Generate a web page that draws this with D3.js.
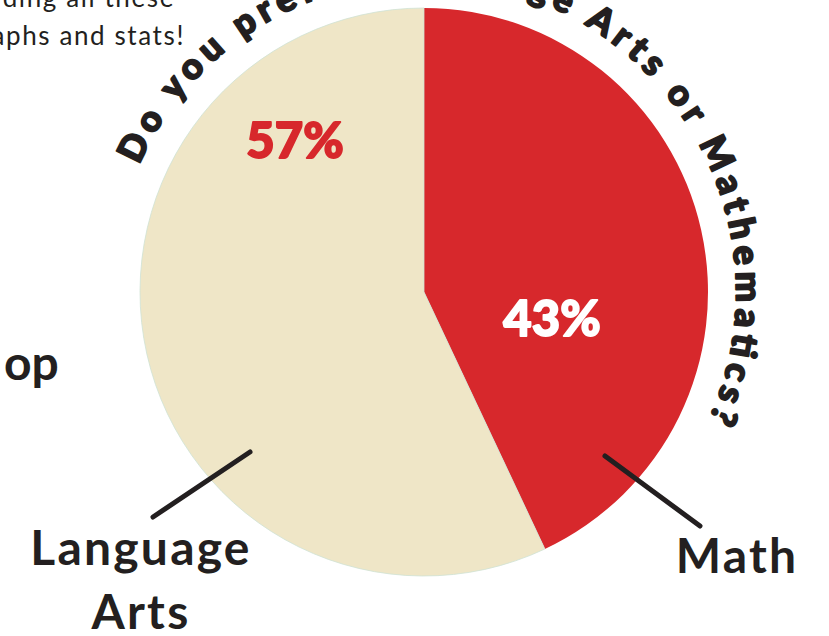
<!DOCTYPE html>
<html>
<head>
<meta charset="utf-8">
<script src="https://cdn.jsdelivr.net/npm/d3@7"></script>
<style>
  html, body { margin: 0; padding: 0; background: #fff; }
  svg { display: block; }
</style>
</head>
<body>
<div id="chart"></div>
<script>
const categories = ['Math', 'Language Arts']
const shares = [43, 57]
const pctLabels = ['43%', '57%']
const sliceColors = ['#d7282c', '#efe6c7']
const pctColors = ['#ffffff', '#d7282c']
const question = 'Do you prefer Language Arts or Mathematics?'

const width = 829
const height = 636
const cx = 424
const cy = 292
const radius = 284
const ink = '#231f20'

const svg = d3.select('#chart')
  .append('svg')
  .attr('width', width)
  .attr('height', height)
  .attr('viewBox', [0, 0, width, height])

// stray bits of page copy around the chart
const copy = svg.append('text')
  .attr('text-anchor', 'end')
  .style('font-family', 'Lato, sans-serif')
  .style('font-size', '26px')
  .style('letter-spacing', '1.6px')
  .style('fill', ink)
copy.append('tspan').attr('x', 175).attr('y', 7).text('understanding all these')
copy.append('tspan').attr('x', 185).attr('y', 45).text('graphs and stats!')

svg.append('text')
  .attr('x', 4).attr('y', 380)
  .style('font-family', 'Lato, sans-serif')
  .style('font-weight', 700)
  .style('font-size', '48px')
  .style('fill', ink)
  .text('op')

const g = svg.append('g')
  .attr('transform', 'translate(' + cx + ',' + cy + ')')

const pie = d3.pie().sort(null).value(d => d.value)
const arc = d3.arc().innerRadius(0).outerRadius(radius)

const data = categories.map((c, i) => ({ name: c, value: shares[i], i: i }))
const arcs = pie(data)

g.selectAll('path.slice')
  .data(arcs)
  .join('path')
  .attr('class', 'slice')
  .attr('d', arc)
  .attr('fill', d => sliceColors[d.data.i])
  .attr('stroke', d => d.data.i === 1 ? '#cfe2d4' : 'none')
  .attr('stroke-width', 0.8)

// percent labels
const pctPos = [[128, 44], [-129, -134]]
g.selectAll('text.pct')
  .data(arcs)
  .join('text')
  .attr('class', 'pct')
  .attr('x', d => pctPos[d.data.i][0])
  .attr('y', d => pctPos[d.data.i][1])
  .attr('text-anchor', 'middle')
  .style('font-family', 'Lato, sans-serif')
  .style('font-weight', 900)
  .style('font-size', '49px')
  .style('fill', d => pctColors[d.data.i])
  .style('stroke', d => pctColors[d.data.i])
  .style('stroke-width', 1.8)
  .style('stroke-linejoin', 'round')
  .text(d => pctLabels[d.data.i])

// leader lines and category names
const leaders = [
  { from: [181, 164], to: [276, 234], label: ['Math'], lx: 313, ly: 281 },
  { from: [-174, 160], to: [-271, 225], label: ['Language', 'Arts'], lx: -283, ly: 273 }
]
g.selectAll('line.leader')
  .data(leaders)
  .join('line')
  .attr('class', 'leader')
  .attr('x1', d => d.from[0]).attr('y1', d => d.from[1])
  .attr('x2', d => d.to[0]).attr('y2', d => d.to[1])
  .attr('stroke', ink)
  .attr('stroke-width', 5)
  .attr('stroke-linecap', 'round')

const names = g.selectAll('text.name')
  .data(leaders)
  .join('text')
  .attr('class', 'name')
  .attr('text-anchor', 'middle')
  .style('font-family', 'Lato, sans-serif')
  .style('font-weight', 700)
  .style('font-size', '48px')
  .style('letter-spacing', '2.2px')
  .style('fill', ink)
names.selectAll('tspan')
  .data(d => d.label.map((t, k) => ({ t, k, d })))
  .join('tspan')
  .attr('x', d => d.d.lx)
  .attr('y', d => d.d.ly + d.k * 64)
  .text(d => d.t)

// curved question around the pie
const textR = 312
const a0 = -66 * Math.PI / 180
const a1 = 114 * Math.PI / 180
const pt = a => [textR * Math.sin(a), -textR * Math.cos(a)]
const p0 = pt(a0), p1 = pt(a1)
g.append('path')
  .attr('id', 'questionArc')
  .attr('fill', 'none')
  .attr('d', `M${p0[0]},${p0[1]} A${textR},${textR} 0 0 1 ${p1[0]},${p1[1]}`)

g.append('text')
  .style('font-family', 'Lato, sans-serif')
  .style('font-weight', 900)
  .style('font-size', '36px')
  .style('fill', ink)
  .style('stroke', ink)
  .style('stroke-width', 1.8)
  .style('stroke-linejoin', 'round')
  .append('textPath')
  .attr('href', '#questionArc')
  .attr('textLength', textR * (a1 - a0))
  .attr('lengthAdjust', 'spacing')
  .text(question)
</script>
</body>
</html>
